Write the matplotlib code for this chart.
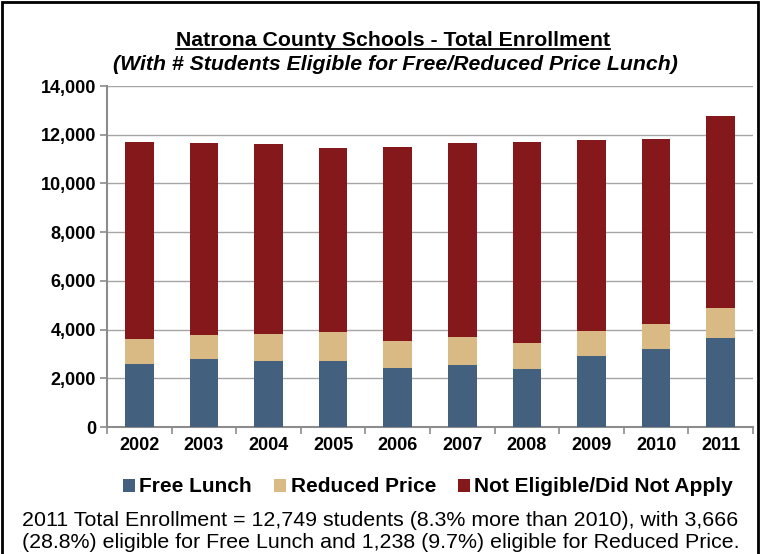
import matplotlib
matplotlib.use("Agg")
import matplotlib.pyplot as plt
from matplotlib.patches import Rectangle, Patch
from matplotlib.lines import Line2D
import numpy as np

plt.rcParams['font.family'] = ['Liberation Sans', 'DejaVu Sans']

years = ['2002', '2003', '2004', '2005', '2006', '2007', '2008', '2009', '2010', '2011']
free_lunch = [2594, 2787, 2730, 2705, 2418, 2541, 2377, 2934, 3197, 3666]
reduced_price = [1013, 983, 1081, 1188, 1107, 1148, 1066, 1013, 1024, 1238]
not_eligible = [8098, 7882, 7800, 7566, 7963, 7963, 8250, 7856, 7595, 7845]
series_names = ['Free Lunch', 'Reduced Price', 'Not Eligible/Did Not Apply']
colors = ['#44607F', '#D9BA84', '#85181A']
yticks = [0, 2000, 4000, 6000, 8000, 10000, 12000, 14000]

W, H = 762, 554
fig = plt.figure(figsize=(W/100, H/100), dpi=100)
ax = fig.add_axes([107/W, 1-427/H, (753-107)/W, (427-86)/H])

x = np.arange(len(years))
bw = 0.44
b1 = np.array(free_lunch)
b2 = b1 + np.array(reduced_price)
ax.bar(x, free_lunch, bw, color=colors[0], zorder=3)
ax.bar(x, reduced_price, bw, bottom=b1, color=colors[1], zorder=3)
ax.bar(x, not_eligible, bw, bottom=b2, color=colors[2], zorder=3)

ax.set_xlim(-0.5, len(years)-0.5)
ax.set_ylim(0, 14000)
ax.set_yticks(yticks)
ax.set_yticklabels([f'{v:,}' for v in yticks], fontsize=13, fontweight='bold')
ax.set_xticks(x)
ax.set_xticklabels(years, fontsize=13, fontweight='bold')
ax.set_xticks(np.arange(-0.5, len(years)), minor=True)
ax.tick_params(axis='x', which='major', length=0, pad=7)
ax.tick_params(axis='x', which='minor', length=5, color='#8C8C8C', width=1.2)
ax.tick_params(axis='y', length=5, color='#8C8C8C', width=1.2, pad=3)
ax.grid(axis='y', color='#A6A6A6', linewidth=1.0, zorder=0)
for s in ['top', 'right']:
    ax.spines[s].set_visible(False)
for s in ['left', 'bottom']:
    ax.spines[s].set_color('#8C8C8C')
    ax.spines[s].set_linewidth(1.5)

# Title
t = fig.text(393/W, 1-41/H, 'Natrona County Schools - Total Enrollment', ha='center', va='center',
             fontsize=15.3, fontweight='bold')
fig.text(395/W, 1-64/H, '(With # Students Eligible for Free/Reduced Price Lunch)', ha='center', va='center',
         fontsize=15.3, fontweight='bold', style='italic')
fig.canvas.draw()
bb = t.get_window_extent().transformed(fig.transFigure.inverted())
fig.add_artist(Line2D([bb.x0, bb.x1], [bb.y0 + 0.002, bb.y0 + 0.002], color='black', linewidth=1.3,
                      transform=fig.transFigure))

# Legend
handles = [Patch(facecolor=c, edgecolor='none') for c in colors]
fig.legend(handles, series_names, loc='center', bbox_to_anchor=(428/W, 1-487/H), ncol=3, frameon=False,
           prop={'weight': 'bold', 'size': 15}, handlelength=0.6, handleheight=0.6,
           handletextpad=0.2, columnspacing=1.05)

# Footer
fig.text(22/W, 1-520/H, '2011 Total Enrollment = 12,749 students (8.3% more than 2010), with 3,666',
         ha='left', va='center', fontsize=15.4)
fig.text(22/W, 1-543/H, '(28.8%) eligible for Free Lunch and 1,238 (9.7%) eligible for Reduced Price.',
         ha='left', va='center', fontsize=15.4)

# Border frame
fig.add_artist(Rectangle((2/W, -0.05), (758-2)/W, 1.05 - 2/H, fill=False, edgecolor='black',
                         linewidth=2, transform=fig.transFigure))

fig.savefig('out.png', dpi=100)
